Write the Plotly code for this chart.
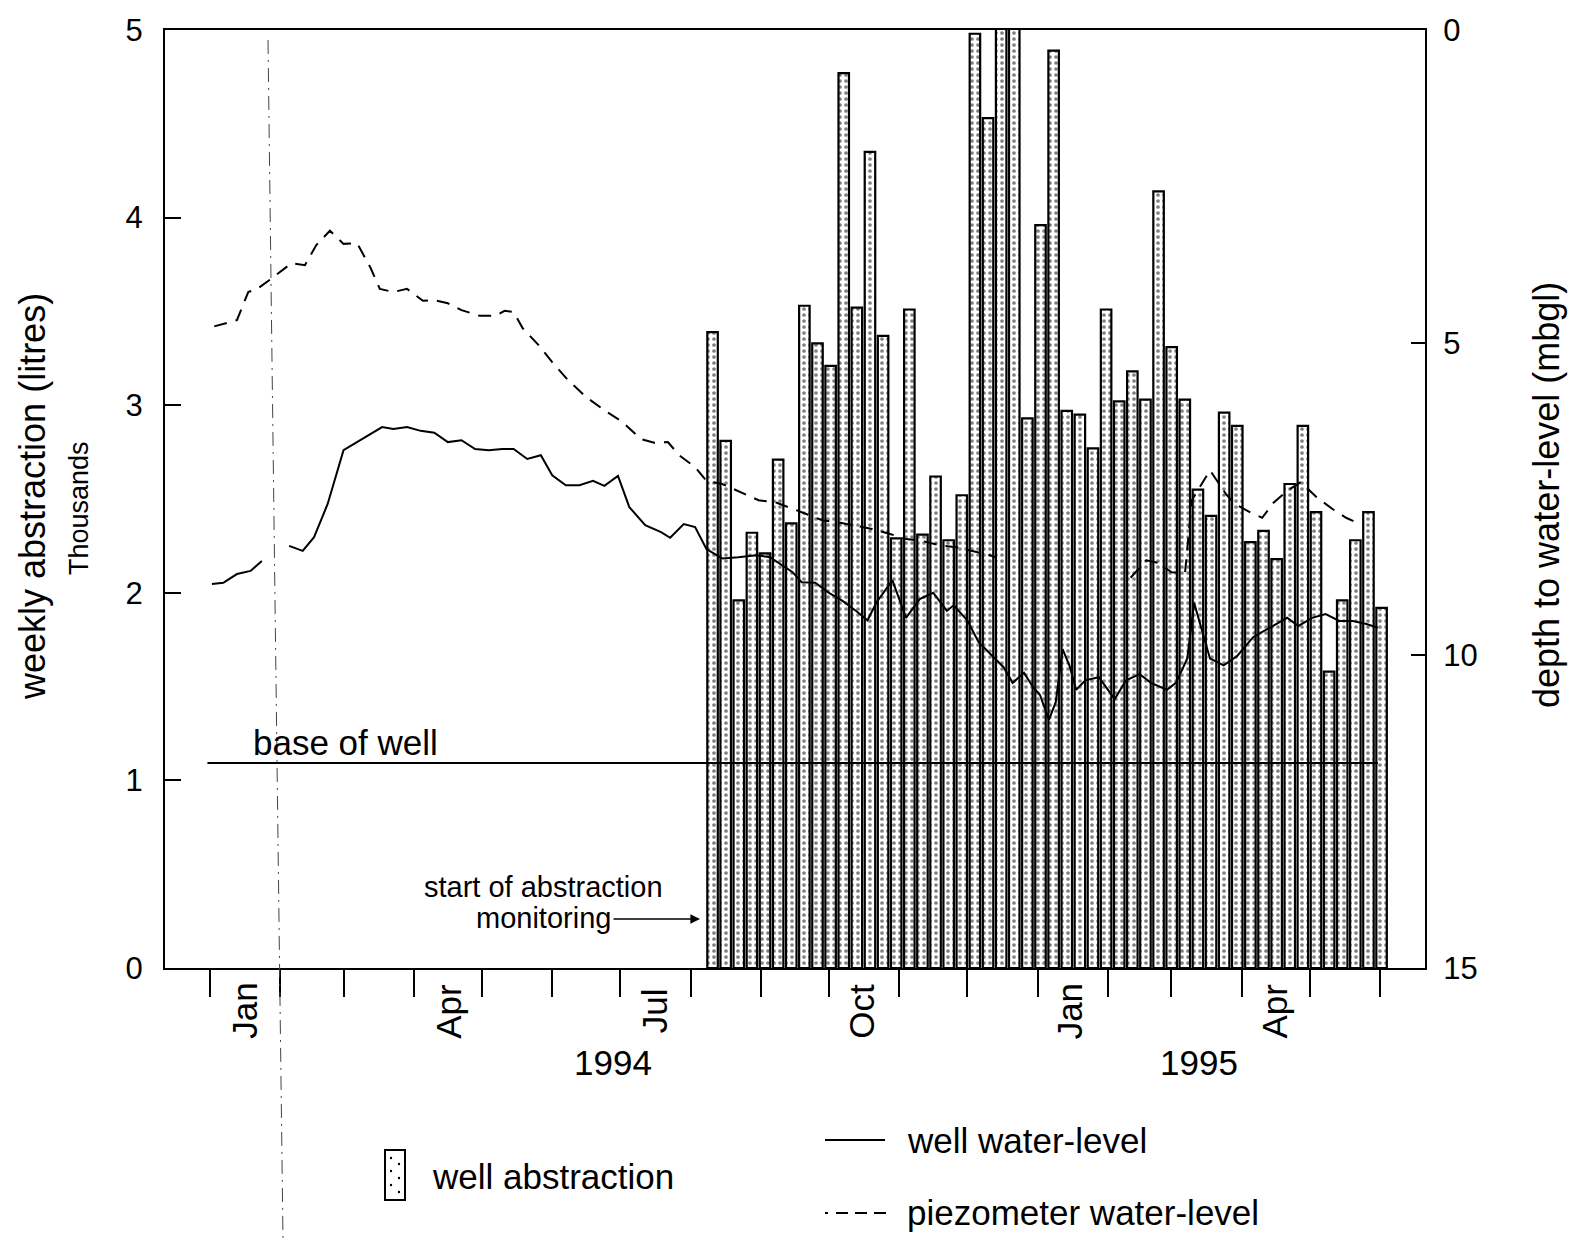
import plotly.graph_objects as go

# Weekly abstraction (thousands of litres); week 1 is the first monitored week
week = list(range(1, 53))
abstraction = [3.39, 2.81, 1.96, 2.32, 2.21, 2.71, 2.37, 3.53, 3.33, 3.21,
               4.77, 3.52, 4.35, 3.37, 2.29, 3.51, 2.31, 2.62, 2.28, 2.52,
               4.98, 4.53, 5.40, 5.40, 2.93, 3.96, 4.89, 2.97, 2.95, 2.77,
               3.51, 3.02, 3.18, 3.03, 4.14, 3.31, 3.03, 2.55, 2.41, 2.96,
               2.89, 2.27, 2.33, 2.18, 2.58, 2.89, 2.43, 1.58, 1.96, 2.28,
               2.43, 1.92]

# Well water-level, depth below ground (m)
well_dates = ["1994-01-02", "1994-01-07", "1994-01-13", "1994-01-19", "1994-01-24",
              "1994-01-30", "1994-02-05", "1994-02-11", "1994-02-16", "1994-02-22",
              "1994-03-01", "1994-03-09", "1994-03-18", "1994-03-23", "1994-03-29",
              "1994-04-04", "1994-04-10", "1994-04-16", "1994-04-22", "1994-04-28",
              "1994-05-04", "1994-05-10", "1994-05-15", "1994-05-21", "1994-05-27",
              "1994-06-01", "1994-06-07", "1994-06-13", "1994-06-19", "1994-06-24",
              "1994-06-30", "1994-07-05", "1994-07-12", "1994-07-19", "1994-07-23",
              "1994-07-29", "1994-08-03", "1994-08-08", "1994-08-15", "1994-08-22",
              "1994-08-30", "1994-09-05", "1994-09-09", "1994-09-15", "1994-09-19",
              "1994-09-25", "1994-10-01", "1994-10-07", "1994-10-13", "1994-10-18",
              "1994-10-22", "1994-10-29", "1994-11-04", "1994-11-10", "1994-11-16",
              "1994-11-22", "1994-11-25", "1994-12-01", "1994-12-06", "1994-12-12",
              "1994-12-17", "1994-12-21", "1994-12-26", "1994-12-30", "1995-01-02",
              "1995-01-06", "1995-01-09", "1995-01-12", "1995-01-15", "1995-01-18",
              "1995-01-22", "1995-01-28", "1995-02-04", "1995-02-09", "1995-02-15",
              "1995-02-20", "1995-02-27", "1995-03-03", "1995-03-08", "1995-03-11",
              "1995-03-14", "1995-03-18", "1995-03-24", "1995-03-30", "1995-04-06",
              "1995-04-13", "1995-04-21", "1995-04-26", "1995-05-02", "1995-05-08",
              "1995-05-14", "1995-05-20", "1995-05-26", "1995-05-31"]
well_depth = [8.86, 8.84, 8.70, 8.65, 8.49,
              None, 8.25, 8.33, 8.11, 7.58,
              6.72, 6.54, 6.35, 6.38, 6.35,
              6.41, 6.44, 6.59, 6.56, 6.70,
              6.72, 6.70, 6.70, 6.86, 6.80,
              7.12, 7.28, 7.28, 7.21, 7.29,
              7.13, 7.63, 7.92, 8.03, 8.12,
              7.90, 7.95, 8.30, 8.45, 8.43,
              8.40, 8.43, 8.53, 8.67, 8.83,
              8.84, 9.00, 9.13, 9.29, 9.44,
              9.15, 8.80, 9.40, 9.10, 9.00,
              9.29, 9.20, 9.44, 9.79, 10.00,
              10.19, 10.44, 10.28, 10.51, 10.63,
              11.03, 10.75, 9.90, 10.16, 10.55,
              10.40, 10.35, 10.70, 10.40, 10.30,
              10.44, 10.55, 10.44, 10.05, 9.16,
              9.56, 10.05, 10.16, 10.01, 9.71,
              9.56, 9.40, 9.53, 9.40, 9.34,
              9.45, 9.45, 9.50, 9.56]

# Piezometer water-level, depth below ground (m)
piezo_dates = ["1994-01-03", "1994-01-13", "1994-01-18", "1994-01-22", "1994-01-28",
               "1994-02-06", "1994-02-12", "1994-02-17", "1994-02-23", "1994-03-01",
               "1994-03-07", "1994-03-13", "1994-03-17", "1994-03-23", "1994-03-29",
               "1994-04-05", "1994-04-10", "1994-04-16", "1994-04-22", "1994-04-30",
               "1994-05-07", "1994-05-11", "1994-05-15", "1994-05-19", "1994-05-26",
               "1994-06-01", "1994-06-08", "1994-06-16", "1994-06-24", "1994-07-02",
               "1994-07-10", "1994-07-16", "1994-07-22", "1994-07-27", "1994-08-03",
               "1994-08-08", "1994-08-15", "1994-08-24", "1994-08-31", "1994-09-08",
               "1994-09-14", "1994-09-21", "1994-09-28", "1994-10-06", "1994-10-13",
               "1994-10-20", "1994-10-28", "1994-11-04", "1994-11-11", "1994-11-19",
               "1994-11-26", "1994-12-03", "1994-12-11", "1994-12-14", "1995-01-15",
               "1995-02-11", "1995-02-18", "1995-02-23", "1995-03-01", "1995-03-07",
               "1995-03-10", "1995-03-18", "1995-03-25", "1995-03-29", "1995-04-05",
               "1995-04-10", "1995-04-15", "1995-04-21", "1995-04-27", "1995-05-04",
               "1995-05-11", "1995-05-17", "1995-05-23"]
piezo_depth = [4.74, 4.64, 4.19, 4.14, 3.98,
               3.73, 3.76, 3.44, 3.21, 3.42,
               3.41, 3.81, 4.14, 4.19, 4.14,
               4.33, 4.32, 4.37, 4.48, 4.57,
               4.57, 4.49, 4.51, 4.77, 5.04,
               5.31, 5.60, 5.87, 6.08, 6.27,
               6.54, 6.60, 6.59, 6.80, 6.99,
               7.21, 7.26, 7.40, 7.52, 7.56,
               7.64, 7.74, 7.84, 7.88, 7.93,
               7.98, 8.06, 8.14, 8.17, 8.24,
               8.27, 8.33, 8.40, 8.44, None,
               8.76, 8.48, 8.52, 8.67, 8.68,
               7.52, 7.04, 7.42, 7.58, 7.72,
               7.80, 7.56, 7.37, 7.23, 7.47,
               7.66, 7.80, 7.90]

# Base of the well (m below ground)
base_dates = ["1993-12-31", "1995-05-31"]
base_depth = [11.72, 11.72]

# Time axis: a tick at every month start, some months labelled
month_ticks = ["1994-%02d-01" % m for m in range(1, 13)] + ["1995-%02d-01" % m for m in range(1, 7)]
month_label_dates = ["1994-01-16", "1994-04-16", "1994-07-16", "1994-10-15", "1995-01-15", "1995-04-15"]
month_labels = ["Jan", "Apr", "Jul", "Oct", "Jan", "Apr"]
year_label_dates = ["1994-06-28", "1995-03-13"]
year_labels = ["1994", "1995"]

FONT = "Liberation Sans, Arial, Helvetica, sans-serif"
W, H = 1574, 1240
L, R, T, B = 165, 1425, 30, 968


def px(x):
    return (x - L) / (R - L)


def py(y):
    return (B - y) / (B - T)


def text(x, y, s, size, angle=0, anchor="center"):
    return dict(x=px(x), y=py(y), xref="paper", yref="paper", text=s, textangle=angle,
                xanchor=anchor, yanchor="middle", showarrow=False,
                font=dict(size=size, color="black", family=FONT))


fig = go.Figure()

# bars on the main (week-index) subplot
fig.add_trace(go.Bar(
    x=week, y=abstraction, xaxis="x", yaxis="y", width=0.8,
    marker=dict(color="white", line=dict(color="black", width=2.2),
                pattern=dict(shape=".", fgcolor="black", bgcolor="white", size=6, solidity=0.3)),
    name="well abstraction", showlegend=False,
))
# water levels on the overlaid date / depth subplot
fig.add_trace(go.Scatter(
    x=well_dates, y=well_depth, xaxis="x2", yaxis="y2", mode="lines",
    line=dict(color="black", width=2), connectgaps=False,
    name="well water-level", showlegend=False,
))
fig.add_trace(go.Scatter(
    x=piezo_dates, y=piezo_depth, xaxis="x2", yaxis="y2", mode="lines",
    line=dict(color="black", width=2, dash="13px,9px"), connectgaps=False,
    name="piezometer water-level", showlegend=False,
))
fig.add_trace(go.Scatter(
    x=base_dates, y=base_depth, xaxis="x2", yaxis="y2", mode="lines",
    line=dict(color="black", width=2), name="base of well", showlegend=False,
))

annotations = []
for d, t in zip(month_label_dates, month_labels):
    annotations.append(dict(x=d, xref="x2", y=py(1011), yref="paper", text=t, textangle=-90,
                            xanchor="center", yanchor="middle", showarrow=False,
                            font=dict(size=35, color="black", family=FONT)))
for d, t in zip(year_label_dates, year_labels):
    annotations.append(dict(x=d, xref="x2", y=py(1062), yref="paper", text=t,
                            xanchor="center", yanchor="middle", showarrow=False,
                            font=dict(size=35, color="black", family=FONT)))

annotations += [
    text(33, 497, "weekly abstraction (litres)", 36, angle=-90),
    text(79, 508, "Thousands", 27, angle=-90),
    text(1546, 495, "depth to water-level (mbgl)", 36, angle=-90),
    text(345, 742, "base of well", 35),
    text(543, 887, "start of abstraction", 29),
    text(543, 918, "monitoring", 29),
    dict(x=px(700), y=py(919), xref="paper", yref="paper", text="", showarrow=True,
         ax=-88, ay=0, arrowhead=2, arrowsize=1.2, arrowwidth=1.6, arrowcolor="black"),
    # legend text
    text(430, 1176, "well abstraction", 35, anchor="left"),
    text(905, 1140, "well water-level", 35, anchor="left"),
    text(905, 1212, "piezometer water-level", 35, anchor="left"),
]


def seg(x0, x1, y, dash="solid", width=2, color="black"):
    return dict(type="line", xref="paper", yref="paper", x0=px(x0), x1=px(x1), y0=py(y), y1=py(y),
                line=dict(color=color, width=width, dash=dash))


shapes = [
    # legend keys
    dict(type="rect", xref="paper", yref="paper", x0=px(385), x1=px(405), y0=py(1200), y1=py(1150),
         line=dict(color="black", width=2), fillcolor="white"),
    seg(825, 885, 1140),
    seg(825, 828, 1213), seg(836, 848, 1213), seg(855, 867, 1213), seg(874, 886, 1213),
    # faint dash-dot rule crossing the sheet
    dict(type="line", xref="paper", yref="paper", x0=px(268), x1=px(283), y0=py(40), y1=py(1240),
         line=dict(color="#444444", width=1, dash="14px,6px,2px,6px")),
]
# dots in the legend key
for dx, dy in [(391, 1158), (399, 1164), (391, 1171), (399, 1178), (391, 1185), (399, 1192)]:
    shapes.append(dict(type="circle", xref="paper", yref="paper", x0=px(dx - 1.2), x1=px(dx + 1.2),
                       y0=py(dy + 1.2), y1=py(dy - 1.2), line=dict(width=0), fillcolor="black"))

fig.update_layout(
    width=W, height=H,
    margin=dict(l=L, r=W - R, t=T, b=H - B, pad=0),
    paper_bgcolor="white", plot_bgcolor="rgba(0,0,0,0)",
    font=dict(family=FONT, color="black", size=30),
    showlegend=False, barmode="overlay",
    # week-index axis for the bars (frame lines only)
    xaxis=dict(
        range=[-40.74, 55.31], showticklabels=False, ticks="",
        showline=True, linecolor="black", linewidth=2, mirror=True,
        showgrid=False, zeroline=False,
    ),
    # calendar axis for the water levels
    xaxis2=dict(
        overlaying="x", side="bottom", type="date",
        range=["1993-12-12 07:00", "1995-06-20 19:00"],
        tickmode="array", tickvals=month_ticks, showticklabels=False,
        ticks="outside", ticklen=28, tickwidth=2, tickcolor="black",
        showline=False, showgrid=False, zeroline=False,
    ),
    yaxis=dict(
        range=[0, 5], tickvals=[0, 1, 2, 3, 4, 5], ticks="inside", ticklen=16, tickwidth=2,
        tickcolor="black", showline=True, linecolor="black", linewidth=2,
        showgrid=False, zeroline=False, ticklabelstandoff=14,
        tickfont=dict(size=31, family=FONT, color="black"),
    ),
    yaxis2=dict(
        overlaying="y", side="right", range=[15, 0], tickvals=[0, 5, 10, 15],
        ticks="inside", ticklen=14, tickwidth=2, tickcolor="black",
        showline=True, linecolor="black", linewidth=2,
        showgrid=False, zeroline=False, ticklabelstandoff=10,
        tickfont=dict(size=31, family=FONT, color="black"),
    ),
    annotations=annotations,
    shapes=shapes,
)

fig.write_html("out.html")
